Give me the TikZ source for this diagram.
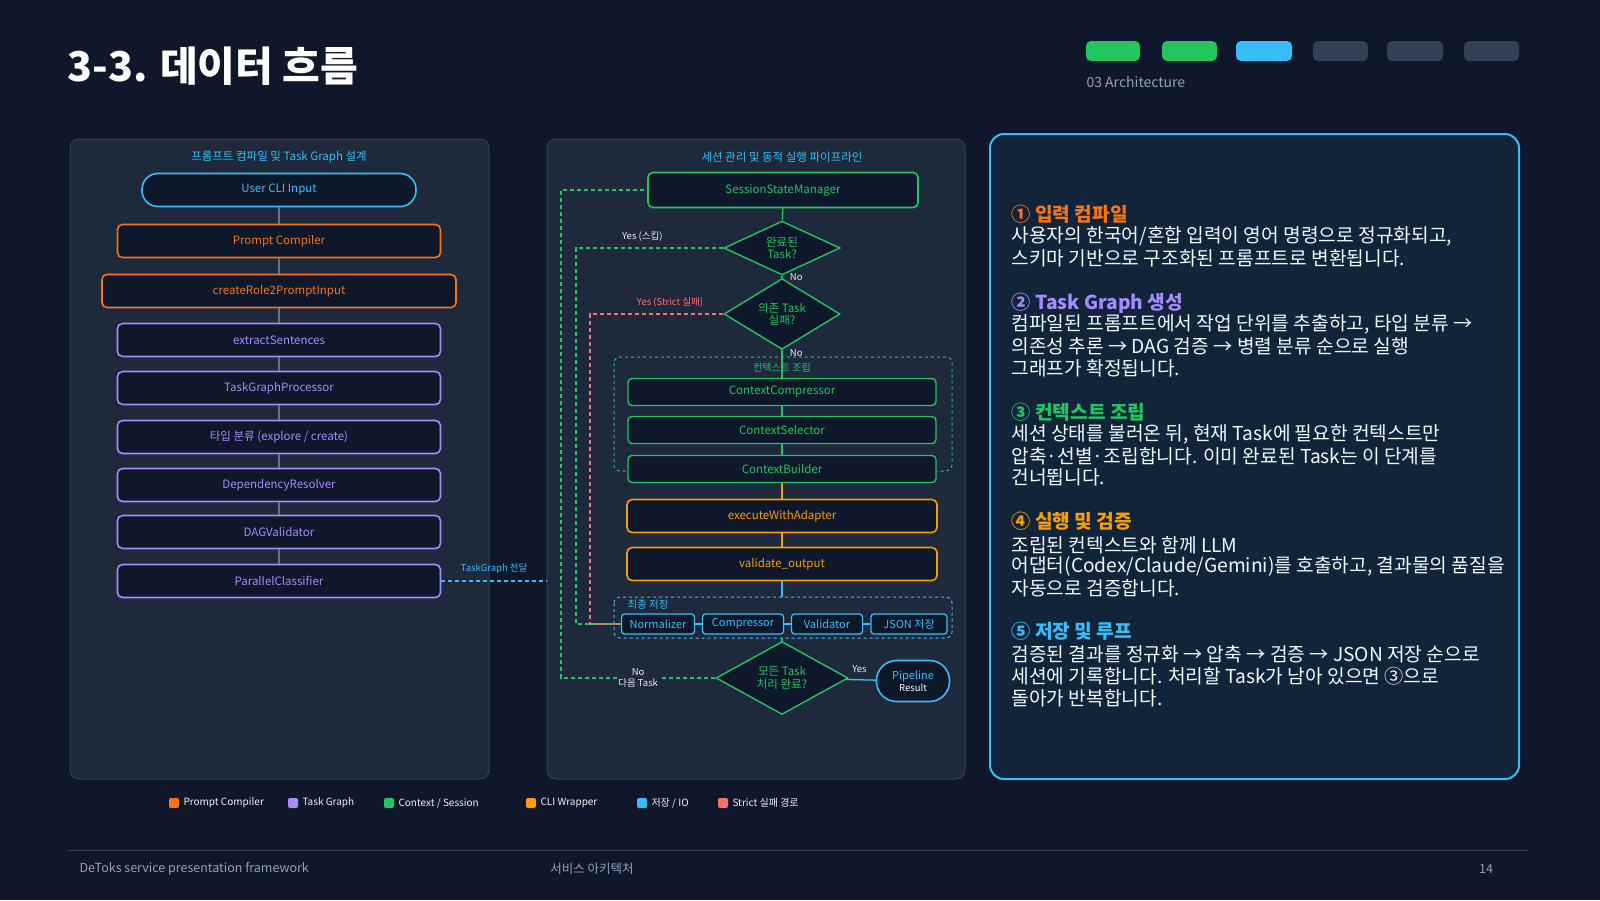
\documentclass[tikz,border=0pt]{standalone}
\usepackage{fontspec}
\setmainfont{Noto Sans CJK KR}
\usetikzlibrary{shapes.geometric,positioning}
\definecolor{bgc}{HTML}{0F172A}
\definecolor{panelc}{HTML}{1E293B}
\definecolor{edgec}{HTML}{334155}
\definecolor{boxc}{HTML}{0F172A}
\definecolor{orangec}{HTML}{F97316}
\definecolor{purplec}{HTML}{A78BFA}
\definecolor{greenc}{HTML}{22C55E}
\definecolor{amberc}{HTML}{F59E0B}
\definecolor{cyanc}{HTML}{38BDF8}
\definecolor{redc}{HTML}{F87171}
\definecolor{greyc}{HTML}{94A3B8}
\definecolor{linec}{HTML}{64748B}
\newcommand{\fs}[1]{\fontsize{#1}{#1}\selectfont}
\tikzset{
  step/.style={draw=#1, text=#1, fill=boxc, line width=1.6pt, rounded corners=5pt, minimum width=323pt, minimum height=33pt, font=\fs{11.5}},
  sub/.style={draw=#1, text=#1, fill=boxc, line width=1.4pt, rounded corners=4pt, minimum width=308pt, minimum height=27pt, font=\fs{11.5}},
  store/.style={draw=cyanc, text=cyanc, fill=boxc, line width=1.3pt, rounded corners=3pt, minimum height=20pt, inner sep=1pt, font=\fs{11}},
  pill/.style={draw=cyanc, text=cyanc, fill=boxc, line width=1.6pt, rounded corners=16pt, minimum height=33pt, font=\fs{11.5}},
  decide/.style={diamond, draw=greenc, text=greenc, fill=boxc, line width=1.4pt, inner sep=0pt, align=center, font=\fs{11.5}},
  link/.style={draw=linec, line width=1.3pt},
  loop/.style={draw=#1, line width=1.2pt, dashed, dash pattern=on 4pt off 3pt},
  lbl/.style={font=\fs{9.5}, text=#1},
  panel/.style={draw=edgec, fill=panelc, line width=1pt, rounded corners=9pt},
  bar/.style={fill=#1, rounded corners=5pt},
  head/.style={anchor=west, font=\fs{19.2}\bfseries, text=#1},
  body/.style={anchor=west, font=\fs{19.2}, text=white!92!cyanc},
  key/.style={fill=#1, rounded corners=2pt, minimum size=10pt, inner sep=0pt},
  keytxt/.style={anchor=west, font=\fs{10}, text=white!85!greyc}
}
\begin{document}
\begin{tikzpicture}[x=1pt,y=-1pt]
  \fill[bgc] (0,0) rectangle (1600,900);
  \useasboundingbox (0,0) rectangle (1600,900);

  % title and progress
  \node[anchor=west, text=white, font=\fs{41}\bfseries] (title) at (64,66) {3-3. 데이터 흐름};
  \fill[bar=greenc] (1086,41) rectangle (1140,61);
  \fill[bar=greenc] (1162,41) rectangle (1217,61);
  \fill[bar=cyanc] (1236,41) rectangle (1292,61);
  \foreach \a/\b in {1313/1368,1387/1443,1464/1519}
    \fill[bar=edgec] (\a,41) rectangle (\b,61);
  \node[anchor=west, text=greyc, font=\fs{14}] (sect) at (1083,82) {03 Architecture};

  % panels
  \draw[panel] (70,139) rectangle (489,779);
  \draw[panel] (547,139) rectangle (965,779);
  \draw[draw=cyanc, fill=cyanc!8!bgc, line width=2pt, rounded corners=14pt] (990,134) rectangle (1519,779);

  % left column
  \node[text=cyanc, font=\fs{11.5}] (ltitle) at (279,157) {프롬프트 컴파일 및 Task Graph 설계};
  \node[pill, minimum width=274pt] (cli) at (279,190) {User CLI Input};
  \node[step=orangec] (pc) at (279,241) {Prompt Compiler};
  \node[step=orangec, minimum width=354pt] (cr) at (279,291) {createRole2PromptInput};
  \node[step=purplec] (es) at (279,340) {extractSentences};
  \node[step=purplec] (tgp) at (279,388) {TaskGraphProcessor};
  \node[step=purplec] (tc) at (279,437) {타입 분류 (explore / create)};
  \node[step=purplec] (dr) at (279,485) {DependencyResolver};
  \node[step=purplec] (dag) at (279,532) {DAGValidator};
  \node[step=purplec] (pcl) at (279,581) {ParallelClassifier};
  \foreach \u/\v in {cli/pc,pc/cr,cr/es,es/tgp,tgp/tc,tc/dr,dr/dag,dag/pcl}
    \draw[link] (\u) -- (\v);
  \coordinate (hand) at (547,581);
  \draw[loop=cyanc] (pcl.east) -- node[lbl=cyanc, above=3pt] {TaskGraph 전달} (hand);

  % middle column
  \node[text=cyanc, font=\fs{11.5}] (mtitle) at (782,157) {세션 관리 및 동적 실행 파이프라인};
  \node[step=greenc, minimum width=270pt, minimum height=35pt] (ssm) at (783,190) {SessionStateManager};
  \node[decide, minimum width=116pt, minimum height=49pt] (done) at (782,248) {완료된\\[1pt]Task?};
  \node[decide, minimum width=116pt, minimum height=49pt] (dep) at (782,314) {의존 Task\\[1pt]실패?};
  \draw[dashed, draw=greenc, line width=1pt, rounded corners=6pt] (614,357) rectangle (952,471);
  \node[text=greenc, font=\fs{10}] (ctxlbl) at (782,368) {컨텍스트 조립};
  \node[sub=greenc] (cc) at (782,392) {ContextCompressor};
  \node[sub=greenc] (cs) at (782,430) {ContextSelector};
  \node[sub=greenc] (cb) at (782,469) {ContextBuilder};
  \node[step=amberc, minimum width=310pt] (exe) at (782,516) {executeWithAdapter};
  \node[step=amberc, minimum width=310pt] (val) at (782,564) {validate\_output};
  \draw[dashed, draw=cyanc, line width=1pt, rounded corners=6pt] (614,597) rectangle (952,638);
  \node[anchor=west, text=cyanc, font=\fs{10.5}] (savelbl) at (624,605) {최종 저장};
  \node[store, minimum width=73pt] (nor) at (658,624) {Normalizer};
  \node[store, minimum width=81pt] (cmp) at (743,624) {Compressor};
  \node[store, minimum width=71pt] (vld) at (827,624) {Validator};
  \node[store, minimum width=76pt] (json) at (909,624) {JSON 저장};
  \node[decide, minimum width=132pt, minimum height=52pt] (all) at (782,678) {모든 Task\\[1pt]처리 완료?};
  \node[pill, minimum width=73pt, minimum height=41pt, rounded corners=20pt, align=center, font=\fs{11}] (res) at (913,681) {Pipeline\\[1pt]{\color{white}\fs{9.5}Result}};

  \draw[link, draw=greenc] (ssm) -- (done);
  \draw[link, draw=greenc] (done) -- node[lbl=white!85!greyc, right=4pt, pos=0.6] {No} (dep);
  \draw[link, draw=greenc] (dep) -- node[lbl=white!85!greyc, right=4pt, pos=0.12] {No} (cc);
  \draw[link, draw=greenc] (cc) -- (cs);
  \draw[link, draw=greenc] (cs) -- (cb);
  \draw[link, draw=amberc] (cb) -- (exe);
  \draw[link, draw=amberc] (exe) -- (val);
  \draw[link, draw=cyanc] (val) -- (782,597);
  \draw[link, draw=cyanc] (nor) -- (cmp);
  \draw[link, draw=cyanc] (cmp) -- (vld);
  \draw[link, draw=cyanc] (vld) -- (json);
  \draw[link, draw=greenc] (782,638) -- (all);
  \draw[link, draw=cyanc] (all) -- node[lbl=white!85!greyc, above=3pt, pos=0.45] {Yes} (res);

  % loops
  \draw[loop=greenc] (all.west) -- node[lbl=white!85!greyc, align=center, pos=0.5, fill=panelc, inner sep=1pt] {No\\[1pt]다음 Task} (561,678) |- (ssm.west);
  \draw[loop=greenc] (done.west) -- node[lbl=white!85!greyc, above=3pt, pos=0.55] {Yes (스킵)} (576,248) |- (nor.west);
  \draw[loop=redc] (dep.west) -- node[lbl=redc, above=3pt, pos=0.4] {Yes (Strict 실패)} (590,314) |- (nor.west);

  % right panel text
  \node[head=orangec] (h1) at (1008,214) {① 입력 컴파일};
  \node[body] (b11) at (1008,236) {사용자의 한국어/혼합 입력이 영어 명령으로 정규화되고,};
  \node[body] (b12) at (1008,258) {스키마 기반으로 구조화된 프롬프트로 변환됩니다.};
  \node[head=purplec] (h2) at (1008,303) {② Task Graph 생성};
  \node[body] (b21) at (1008,324) {컴파일된 프롬프트에서 작업 단위를 추출하고, 타입 분류 →};
  \node[body] (b22) at (1008,346) {의존성 추론 → DAG 검증 → 병렬 분류 순으로 실행};
  \node[body] (b23) at (1008,368) {그래프가 확정됩니다.};
  \node[head=greenc] (h3) at (1008,412) {③ 컨텍스트 조립};
  \node[body] (b31) at (1008,434) {세션 상태를 불러온 뒤, 현재 Task에 필요한 컨텍스트만};
  \node[body] (b32) at (1008,456) {압축·선별·조립합니다. 이미 완료된 Task는 이 단계를};
  \node[body] (b33) at (1008,477) {건너뜁니다.};
  \node[head=amberc] (h4) at (1008,521) {④ 실행 및 검증};
  \node[body] (b41) at (1008,545) {조립된 컨텍스트와 함께 LLM};
  \node[body] (b42) at (1008,566) {어댑터(Codex/Claude/Gemini)를 호출하고, 결과물의 품질을};
  \node[body] (b43) at (1008,588) {자동으로 검증합니다.};
  \node[head=cyanc] (h5) at (1008,631) {⑤ 저장 및 루프};
  \node[body] (b51) at (1008,654) {검증된 결과를 정규화 → 압축 → 검증 → JSON 저장 순으로};
  \node[body] (b52) at (1008,676) {세션에 기록합니다. 처리할 Task가 남아 있으면 ③으로};
  \node[body] (b53) at (1008,698) {돌아가 반복합니다.};

  % legend
  \foreach \x/\c/\t in {174/orangec/{Prompt Compiler},293/purplec/{Task Graph},389/greenc/{Context / Session},531/amberc/{CLI Wrapper},642/cyanc/{저장 / IO},723/redc/{Strict 실패 경로}}
  {
    \node[key=\c] (k\x) at (\x,803) {};
    \node[keytxt] (t\x) at (\x+6,803) {\t};
  }

  % footer
  \draw[edgec, line width=1pt] (67,850) -- (1529,850);
  \node[anchor=west, text=greyc, font=\fs{12.5}] (f1) at (76,869) {DeToks service presentation framework};
  \node[text=greyc, font=\fs{12.5}] (f2) at (592,869) {서비스 아키텍처};
  \node[text=greyc, font=\fs{12.5}] (f3) at (1486,869) {14};
\end{tikzpicture}
\end{document}
